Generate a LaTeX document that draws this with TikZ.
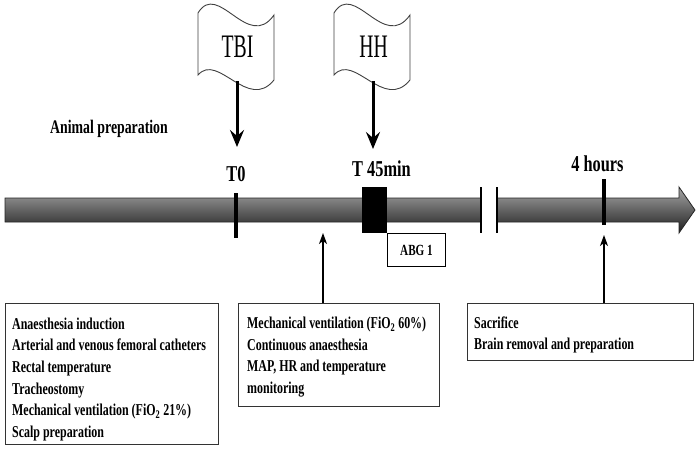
\documentclass[tikz,border=0pt]{standalone}
\usepackage{fontspec}
\setmainfont{Liberation Serif}[FakeStretch=0.72]
\newfontfamily\flagfont{Liberation Serif}[FakeStretch=0.6]
\usetikzlibrary{arrows.meta}

\begin{document}
\begin{tikzpicture}[x=1pt,y=-1pt,
  flagshape/.style={draw=black!75, line width=0.9pt, fill=white},
  flagtext/.style={font=\flagfont\fontsize{32.8}{36}\selectfont, inner sep=0pt},
  downarr/.style={line width=3pt, -{Stealth[length=17pt,width=14pt,inset=6pt]}},
  uparr/.style={line width=1.3pt, -{Stealth[length=11pt,width=8pt,inset=3pt]}},
  tickmark/.style={line width=3.5pt},
  stamp/.style={font=\bfseries\fontsize{22.7}{26}\selectfont, inner sep=0pt, anchor=base},
  infobox/.style={draw=black!80, line width=1.2pt, anchor=north west, inner sep=0pt},
  boxline/.style={font=\bfseries\fontsize{16.6}{20}\selectfont, inner sep=0pt, anchor=base west},
]
\useasboundingbox (0,0) rectangle (700,456);

% timeline bar
\shade[top color=black!35, bottom color=black!88, draw=black!85, line width=0.8pt]
  (5,198) -- (679,198) -- (679,187) -- (695,210) -- (679,233) -- (679,222) -- (5,222) -- cycle;
% break
\fill[white] (482,184) rectangle (496,236);
\draw[line width=1.5pt] (481,187) -- (481,233);
\draw[line width=1.5pt] (497,187) -- (497,233);
% ticks
\draw[tickmark] (236,193) -- (236,238);
\fill (362,187) rectangle (387,233);
\draw[tickmark] (604,179) -- (604,225);
\node[draw, line width=1pt, minimum width=58pt, minimum height=33pt, anchor=north west, inner sep=0pt,
      font=\bfseries\fontsize{15.5}{18}\selectfont] (abg) at (387,233) {ABG 1};

% flags
\begin{scope}[shift={(198,0)}]
  \draw[flagshape] (0,13) .. controls (20,-20) and (50,52) .. (76,15) -- (76,80)
     .. controls (50,112) and (20,52) .. (0,75) -- cycle;
\end{scope}
\begin{scope}[shift={(334,0)}]
  \draw[flagshape] (0,13) .. controls (20,-20) and (50,52) .. (76,15) -- (76,80)
     .. controls (50,112) and (20,52) .. (0,75) -- cycle;
\end{scope}
\node[flagtext] (tbi) at (237.5,47) {TBI};
\node[flagtext] (hh) at (373.5,47) {HH};
\coordinate (tbibot) at (237,81);
\coordinate (tbitip) at (237,147);
\coordinate (hhbot) at (373,81);
\coordinate (hhtip) at (373,149);
\draw[downarr] (tbibot) -- (tbitip);
\draw[downarr] (hhbot) -- (hhtip);

% labels
\node[font=\bfseries\fontsize{19.2}{22}\selectfont, inner sep=0pt, anchor=base west] (animal) at (50,133.3) {Animal preparation};
\node[stamp] (t0) at (236,181.5) {T0};
\node[stamp] (t45) at (381.5,176.5) {T 45min};
\node[stamp] (t4h) at (597.5,171.5) {4 hours};

% boxes
\node[infobox, minimum width=213pt, minimum height=141pt] (lbox) at (5,303) {};
\node[infobox, minimum width=201pt, minimum height=103pt] (mbox) at (238,303) {};
\node[infobox, minimum width=226pt, minimum height=57pt] (rbox) at (467,303) {};

\node[boxline] (l1) at (12,329) {Anaesthesia induction};
\node[boxline] (l2) at (12,350.7) {Arterial and venous femoral catheters};
\node[boxline] (l3) at (12,372.4) {Rectal temperature};
\node[boxline] (l4) at (12,394) {Tracheostomy};
\node[boxline] (l5) at (12,415.7) {Mechanical ventilation (FiO\textsubscript{2} 21\%)};
\node[boxline] (l6) at (12,437.4) {Scalp preparation};

\node[boxline] (m1) at (247,328.5) {Mechanical ventilation (FiO\textsubscript{2} 60\%)};
\node[boxline] (m2) at (247,350) {Continuous anaesthesia};
\node[boxline] (m3) at (247,371.5) {MAP, HR and temperature};
\node[boxline] (m4) at (247,393) {monitoring};

\node[boxline] (r1) at (474,328) {Sacrifice};
\node[boxline] (r2) at (474,349) {Brain removal and preparation};

% up arrows
\coordinate (mtip) at (323,233);
\coordinate (rtip) at (604,235);
\draw[uparr] (mbox.north -| mtip) -- (mtip);
\draw[uparr] (rbox.north -| rtip) -- (rtip);
\end{tikzpicture}
\end{document}
